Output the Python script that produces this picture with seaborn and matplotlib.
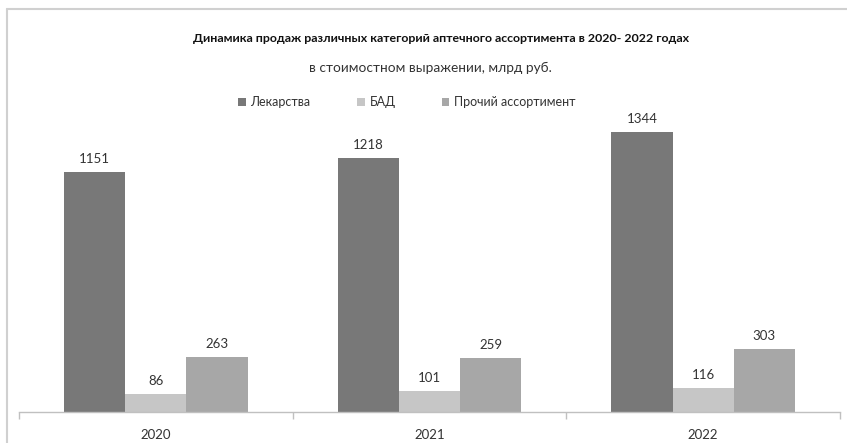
import matplotlib
matplotlib.use("Agg")
import matplotlib.pyplot as plt
import matplotlib.patches as mpatches
import seaborn as sns
import pandas as pd

years = ["2020", "2021", "2022"]
categories = ["Лекарства", "БАД", "Прочий ассортимент"]
lekarstva = [1151, 1218, 1344]
bad = [86, 101, 116]
prochiy = [263, 259, 303]
colors = ["#787878", "#c6c6c6", "#a7a7a7"]

title = "Динамика продаж различных категорий аптечного ассортимента в 2020- 2022 годах"
subtitle = "в стоимостном выражении, млрд руб."

rows = []
for cat, vals in zip(categories, [lekarstva, bad, prochiy]):
    for y, v in zip(years, vals):
        rows.append({"Год": y, "Категория": cat, "Значение": v})
df = pd.DataFrame(rows)

sns.set_theme(style="white")
plt.rcParams["font.family"] = ["Lato", "DejaVu Sans"]

W, H = 847, 443
fig = plt.figure(figsize=(W / 100, H / 100), dpi=100)
ax = fig.add_axes([19 / W, (H - 412) / H, (840 - 19) / W, (412 - 110) / H])

sns.barplot(data=df, x="Год", y="Значение", hue="Категория", order=years,
            hue_order=categories, palette=colors, width=0.67, gap=0,
            saturation=1, ax=ax, legend=False, linewidth=0, errorbar=None)

for cont in ax.containers:
    ax.bar_label(cont, padding=5, fontsize=9.5, color="#333333")

ax.set_xlim(-0.5, 2.5)
ax.set_ylim(0, 1448)
ax.set_xlabel("")
ax.set_ylabel("")
ax.set_yticks([])
for s in ["top", "right", "left"]:
    ax.spines[s].set_visible(False)
ax.spines["bottom"].set_color("#c0c0c0")
ax.spines["bottom"].set_linewidth(1)
ax.set_xticks([-0.5, 0.5, 1.5, 2.5], minor=True)
ax.tick_params(axis="x", which="minor", bottom=True, length=5, color="#c0c0c0", width=1)
ax.tick_params(axis="x", which="major", bottom=False, length=0, pad=12,
               labelsize=9.5, labelcolor="#333333")

fig.text(441 / W, 1 - 38 / H, title, ha="center", va="center", fontsize=8.9,
         fontweight="bold", color="#111111")
fig.text(430 / W, 1 - 68 / H, subtitle, ha="center", va="center", fontsize=9.8,
         color="#333333")

handles = [mpatches.Patch(facecolor=c, edgecolor="none", label=l) for c, l in zip(colors, categories)]
fig.legend(handles=handles, loc="center", bbox_to_anchor=(407 / W, 1 - 102 / H), ncol=3,
           frameon=False, fontsize=9, handlelength=0.6, handleheight=0.6,
           handletextpad=0.4, columnspacing=3.7, labelcolor="#333333")

# outer chart frame
fig.add_artist(plt.Line2D([7 / W, 7 / W], [0, 1 - 9 / H], transform=fig.transFigure,
                          color="#d0d0d0", linewidth=1.5))
fig.add_artist(plt.Line2D([7 / W, 1], [1 - 9 / H, 1 - 9 / H], transform=fig.transFigure,
                          color="#d0d0d0", linewidth=1.5))

fig.savefig("out.png", dpi=100)
